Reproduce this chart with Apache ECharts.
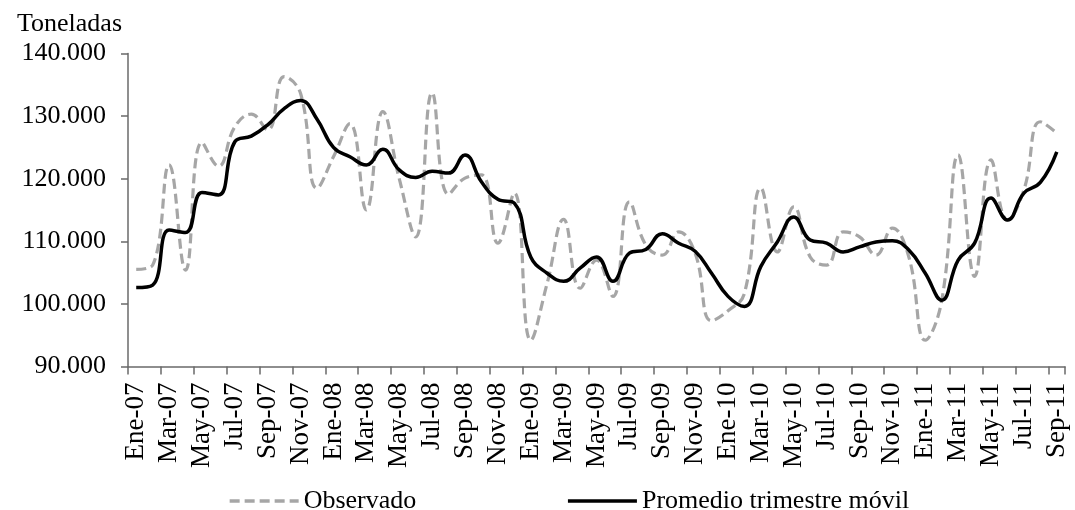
<!DOCTYPE html>
<html>
<head>
<meta charset="utf-8">
<script src="https://cdn.jsdelivr.net/npm/echarts@6/dist/echarts.min.js"></script>
<style>
html,body{margin:0;padding:0;background:#fff;}
#chart{width:1075px;height:510px;}
</style>
</head>
<body>
<div id="chart"></div>
<script>
var categories = [
 'Ene-07','Feb-07','Mar-07','Abr-07','May-07','Jun-07','Jul-07','Ago-07','Sep-07','Oct-07','Nov-07','Dic-07',
 'Ene-08','Feb-08','Mar-08','Abr-08','May-08','Jun-08','Jul-08','Ago-08','Sep-08','Oct-08','Nov-08','Dic-08',
 'Ene-09','Feb-09','Mar-09','Abr-09','May-09','Jun-09','Jul-09','Ago-09','Sep-09','Oct-09','Nov-09','Dic-09',
 'Ene-10','Feb-10','Mar-10','Abr-10','May-10','Jun-10','Jul-10','Ago-10','Sep-10','Oct-10','Nov-10','Dic-10',
 'Ene-11','Feb-11','Mar-11','Abr-11','May-11','Jun-11','Jul-11','Ago-11','Sep-11'
];
// values in tonnes
var observado = [
 105500,106200,122200,105400,125800,122000,128300,130300,127800,136300,133600,118500,
 123500,128800,115000,130700,120000,110700,133700,117500,120100,120600,109700,117700,
 94200,103300,113500,102500,107000,101200,116300,109400,107800,111500,108100,97300,
 98900,101700,118500,108300,115500,107500,106200,111500,110700,107800,112100,107500,
 94200,100500,123800,104400,123000,113400,118200,129100,127300
];
var promedio = [
 102600,103000,111800,111400,117800,117400,125900,126800,128600,131200,132500,129500,
 125000,123500,122200,124700,121400,120200,121200,120900,123800,119500,116700,116100,
 107500,104900,103600,105700,107500,103600,108100,108700,111200,109700,108400,104900,
 101200,99600,106000,109900,113900,110200,109700,108300,109100,109900,110100,108600,
 104900,100600,107000,109700,116900,113400,117700,119400,124300
];
var yTicks = [90000,100000,110000,120000,130000,140000];
var seriesNames = ['Observado','Promedio trimestre móvil'];

var FONT = '"Liberation Serif","Times New Roman",serif';
var chart = echarts.init(document.getElementById('chart'), null, {renderer:'canvas'});
function fmt(v){ return String(v).replace(/\B(?=(\d{3})+(?!\d))/g,'.'); }

chart.setOption({
  animation:false,
  backgroundColor:'#ffffff',
  title:{
    text:'Toneladas', left:12, top:6,
    textStyle:{fontFamily:FONT,fontSize:26,fontWeight:'normal',color:'#000'}
  },
  grid:{left:128,right:10,top:53.5,bottom:143.5,containLabel:false},
  legend:{
    left:223, top:483, itemWidth:69, itemHeight:14, itemGap:150,
    itemStyle:{opacity:0},
    lineStyle:{width:3.3},
    textStyle:{fontFamily:FONT,fontSize:26,color:'#000'},
    data:seriesNames
  },
  xAxis:{
    type:'category', data:categories, boundaryGap:true,
    axisLine:{lineStyle:{color:'#6a6a6a',width:1.5}},
    axisTick:{show:true,interval:1,length:8,lineStyle:{color:'#6a6a6a',width:1.5}},
    axisLabel:{interval:1,rotate:90,margin:16,fontFamily:FONT,fontSize:27,color:'#000'},
    splitLine:{show:false}
  },
  yAxis:{
    type:'value', min:yTicks[0], max:yTicks[yTicks.length-1], interval:10000,
    axisLine:{show:true,lineStyle:{color:'#6a6a6a',width:1.5}},
    axisTick:{show:true,length:7,lineStyle:{color:'#6a6a6a',width:1.5}},
    axisLabel:{margin:22,fontFamily:FONT,fontSize:26,color:'#000',formatter:fmt},
    splitLine:{show:false}
  },
  series:[
    {name:seriesNames[0],type:'line',data:observado,smooth:0.45,symbol:'none',
     lineStyle:{color:'#a6a6a6',width:3.2,type:[10,5]},itemStyle:{color:'#a6a6a6'}},
    {name:seriesNames[1],type:'line',data:promedio,smooth:0.45,symbol:'none',
     lineStyle:{color:'#000',width:3.5},itemStyle:{color:'#000'}}
  ]
});
</script>
</body>
</html>
